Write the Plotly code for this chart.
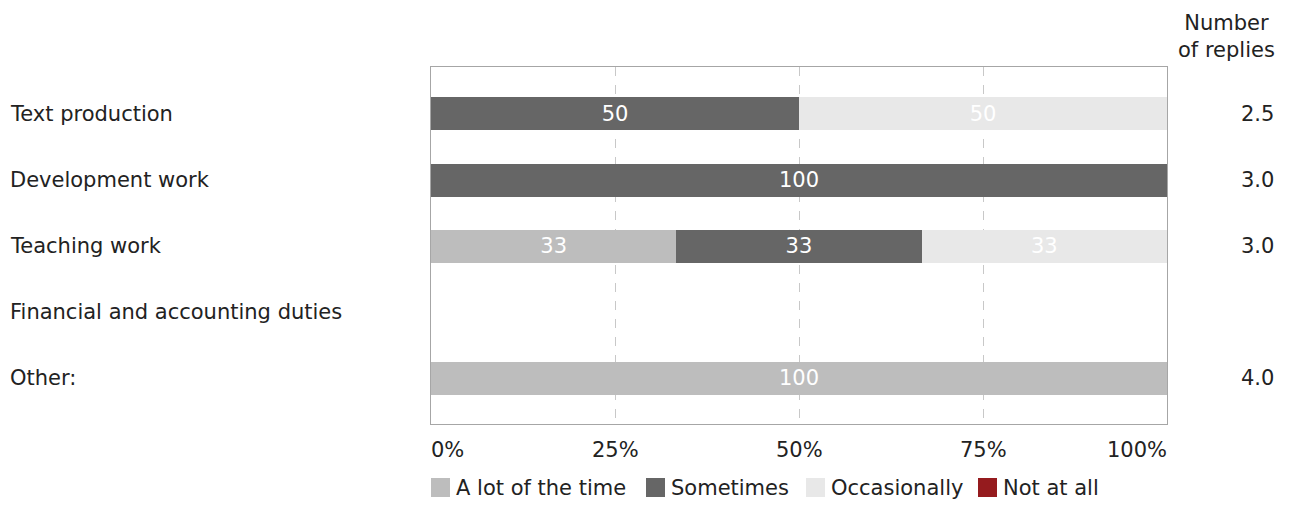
import plotly.graph_objects as go

categories = ["Text production", "Development work", "Teaching work",
              "Financial and accounting duties", "Other:"]
series_names = ["A lot of the time", "Sometimes", "Occasionally", "Not at all"]
a_lot = [0, 0, 33.33, 0, 100]
sometimes = [50, 100, 33.33, 0, 0]
occasionally = [50, 0, 33.33, 0, 0]
not_at_all = [0, 0, 0, 0, 0]
replies = ["2.5", "3.0", "3.0", "", "4.0"]
tick_vals = [0, 25, 50, 75, 100]
tick_text = ["0%", "25%", "50%", "75%", "100%"]
colors = ["#bdbdbd", "#666666", "#e8e8e8", "#951b1e"]

FONT = "Verdana, DejaVu Sans, sans-serif"
FS = 21
TXT = "#222222"

# page offset of 8px (browser body margin) compensated
OFF = 8
PL, PR, PT, PB = 431, 1167, 67, 424   # plot area in page pixels
W, H = 1291 - OFF, 506 - OFF
L, T = PL - OFF, PT - OFF
pw, ph = PR - PL, PB - PT
R = W - L - pw
B = H - T - ph


def px(x):
    return (x - PL) / pw


def py(y):
    return (PB - y) / ph


fig = go.Figure()
ys = list(range(len(categories)))
for name, vals, col in zip(series_names, [a_lot, sometimes, occasionally, not_at_all], colors):
    fig.add_trace(go.Bar(
        y=ys, x=vals, orientation="h", name=name,
        marker=dict(color=col, line=dict(width=0)),
        width=0.5,
        text=[f"{v:.0f}" if v else "" for v in vals],
        textposition="inside", insidetextanchor="middle",
        textfont=dict(color="white", size=FS, family=FONT),
        hoverinfo="skip", showlegend=False,
    ))

fig.update_layout(
    barmode="stack",
    width=W, height=H,
    margin=dict(l=L, r=R, t=T, b=B, pad=0),
    paper_bgcolor="white", plot_bgcolor="white",
    font=dict(family=FONT, size=FS, color=TXT),
    showlegend=False,
    xaxis=dict(range=[0, 100], showticklabels=False, ticks="",
               tickvals=[25, 50, 75], showgrid=True,
               gridcolor="#c8c8c8", griddash="dash", gridwidth=1,
               showline=True, linecolor="#a6a6a6", linewidth=1, mirror=True,
               zeroline=False, fixedrange=True),
    yaxis=dict(range=[4.69, -0.71], showticklabels=False, ticks="",
               showgrid=False, showline=True, linecolor="#a6a6a6", linewidth=1,
               mirror=True, zeroline=False, fixedrange=True),
)

# category labels on the left
for i, c in enumerate(categories):
    fig.add_annotation(x=px(8), xref="paper", y=i, yref="y",
                       text=c, showarrow=False, xanchor="left", yanchor="middle",
                       font=dict(size=FS, family=FONT, color=TXT))

# number of replies
for i, r in enumerate(replies):
    if r:
        fig.add_annotation(x=px(1276), xref="paper", y=i, yref="y",
                           text=r, showarrow=False, xanchor="right", yanchor="middle",
                           font=dict(size=FS, family=FONT, color=TXT))

fig.add_annotation(x=px(1277), xref="paper", y=py(36), yref="paper",
                   text="Number<br>of replies", showarrow=False, xanchor="right",
                   yanchor="middle", align="center",
                   font=dict(size=FS, family=FONT, color=TXT))

# x tick labels
anchors = ["left", "center", "center", "center", "right"]
shifts = [-2, 0, 0, 0, 2]
for v, t, a, s in zip(tick_vals, tick_text, anchors, shifts):
    fig.add_annotation(x=v, xref="x", y=py(450), yref="paper",
                       text=t, showarrow=False, xanchor=a, yanchor="middle",
                       xshift=s,
                       font=dict(size=FS, family=FONT, color=TXT))

# legend (manual, square swatches)
leg_x = [431, 646, 806, 978]
for name, col, lx in zip(series_names, colors, leg_x):
    fig.add_shape(type="rect", xref="paper", yref="paper",
                  x0=px(lx), x1=px(lx + 19), y0=py(497), y1=py(478),
                  fillcolor=col, line=dict(width=0), layer="above")
    fig.add_annotation(x=px(lx + 23), xref="paper", y=py(487.5), yref="paper",
                       text=name, showarrow=False, xanchor="left", yanchor="middle",
                       font=dict(size=FS, family=FONT, color=TXT))

fig.write_html("out.html")
